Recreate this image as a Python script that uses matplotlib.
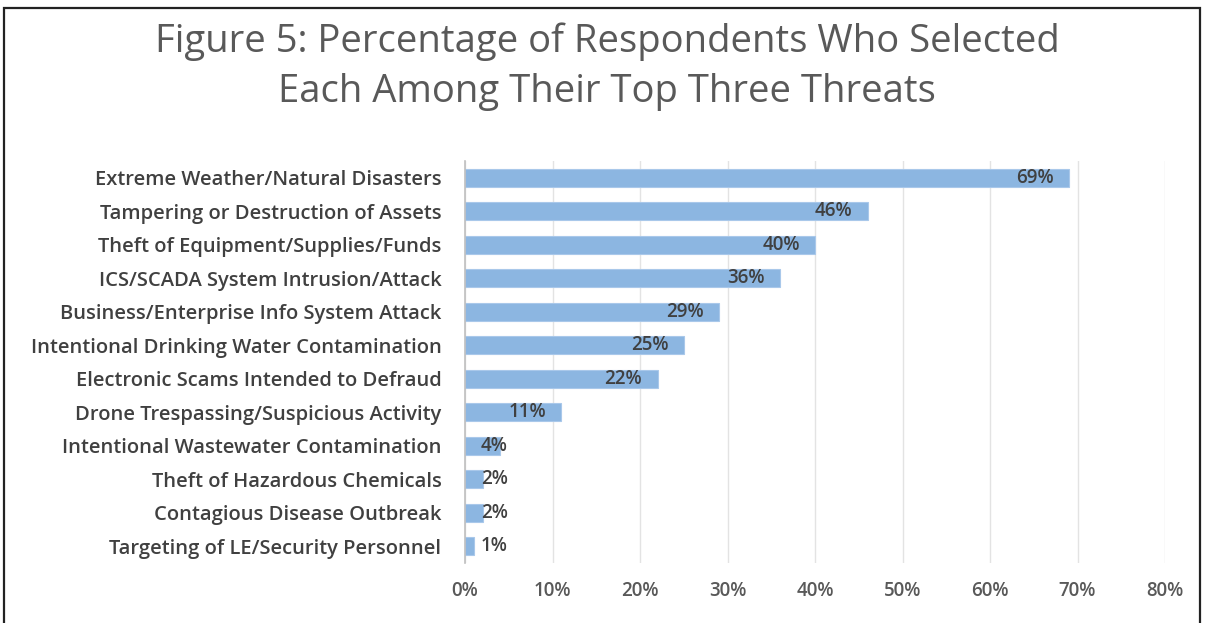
import matplotlib
matplotlib.use("Agg")
import matplotlib.pyplot as plt
from matplotlib.patches import Rectangle

categories = [
    "Extreme Weather/Natural Disasters",
    "Tampering or Destruction of Assets",
    "Theft of Equipment/Supplies/Funds",
    "ICS/SCADA System Intrusion/Attack",
    "Business/Enterprise Info System Attack",
    "Intentional Drinking Water Contamination",
    "Electronic Scams Intended to Defraud",
    "Drone Trespassing/Suspicious Activity",
    "Intentional Wastewater Contamination",
    "Theft of Hazardous Chemicals",
    "Contagious Disease Outbreak",
    "Targeting of LE/Security Personnel",
]
values = [69, 46, 40, 36, 29, 25, 22, 11, 4, 2, 2, 1]
xticks = [0, 10, 20, 30, 40, 50, 60, 70, 80]
title_lines = ["Figure 5: Percentage of Respondents Who Selected",
               "Each Among Their Top Three Threats"]

plt.rcParams['font.family'] = ['Open Sans', 'DejaVu Sans']

fig = plt.figure(figsize=(12.09, 6.23), dpi=100)
ax = fig.add_axes([465/1209, 1-563/623, 700/1209, (563-161)/623])

ypos = list(range(len(categories)))
ax.barh(ypos, values, height=0.55, color='#8CB6E1', edgecolor='#A9C8EA', linewidth=0.8, zorder=2)
ax.set_ylim(len(categories)-0.5, -0.5)
ax.set_xlim(0, 80)
ax.set_xticks(xticks)
ax.set_xticklabels([f"{t}%" for t in xticks], fontsize=13.5, color='#595959', fontweight='semibold')
ax.set_yticks(ypos)
ax.set_yticklabels(categories, fontsize=14.5, color='#404040', fontweight='semibold')
ax.tick_params(axis='both', length=0)
ax.tick_params(axis='x', pad=13)
ax.tick_params(axis='y', pad=17)
ax.grid(axis='x', color='#E3E3E3', linewidth=1, zorder=0)
for s in ['top', 'right', 'bottom']:
    ax.spines[s].set_visible(False)
ax.spines['left'].set_color('#BFBFBF')
ax.spines['left'].set_linewidth(1.2)

for i, v in enumerate(values):
    if v < 5:
        ax.annotate(f"{v}%", xy=(1.8, i), xytext=(0, 0), textcoords='offset points',
                    ha='left', va='center', fontsize=13.5, color='#404040',
                    fontweight='semibold', zorder=3)
    else:
        ax.annotate(f"{v}%", xy=(v, i), xytext=(-11, 0), textcoords='offset points',
                    ha='right', va='center', fontsize=13.5, color='#404040',
                    fontweight='semibold', zorder=3)

fig.text(607/1209, 1-42/623, title_lines[0], ha='center', va='center', fontsize=27.5,
         color='#595959')
fig.text(607/1209, 1-92/623, title_lines[1], ha='center', va='center', fontsize=27.5,
         color='#595959')

fig.add_artist(Rectangle((4/1209, -0.05), 1196/1209, 1.05 - 8/623, transform=fig.transFigure,
                         fill=False, edgecolor='#222222', linewidth=1.6, clip_on=False))

fig.savefig("out.png", dpi=100)
